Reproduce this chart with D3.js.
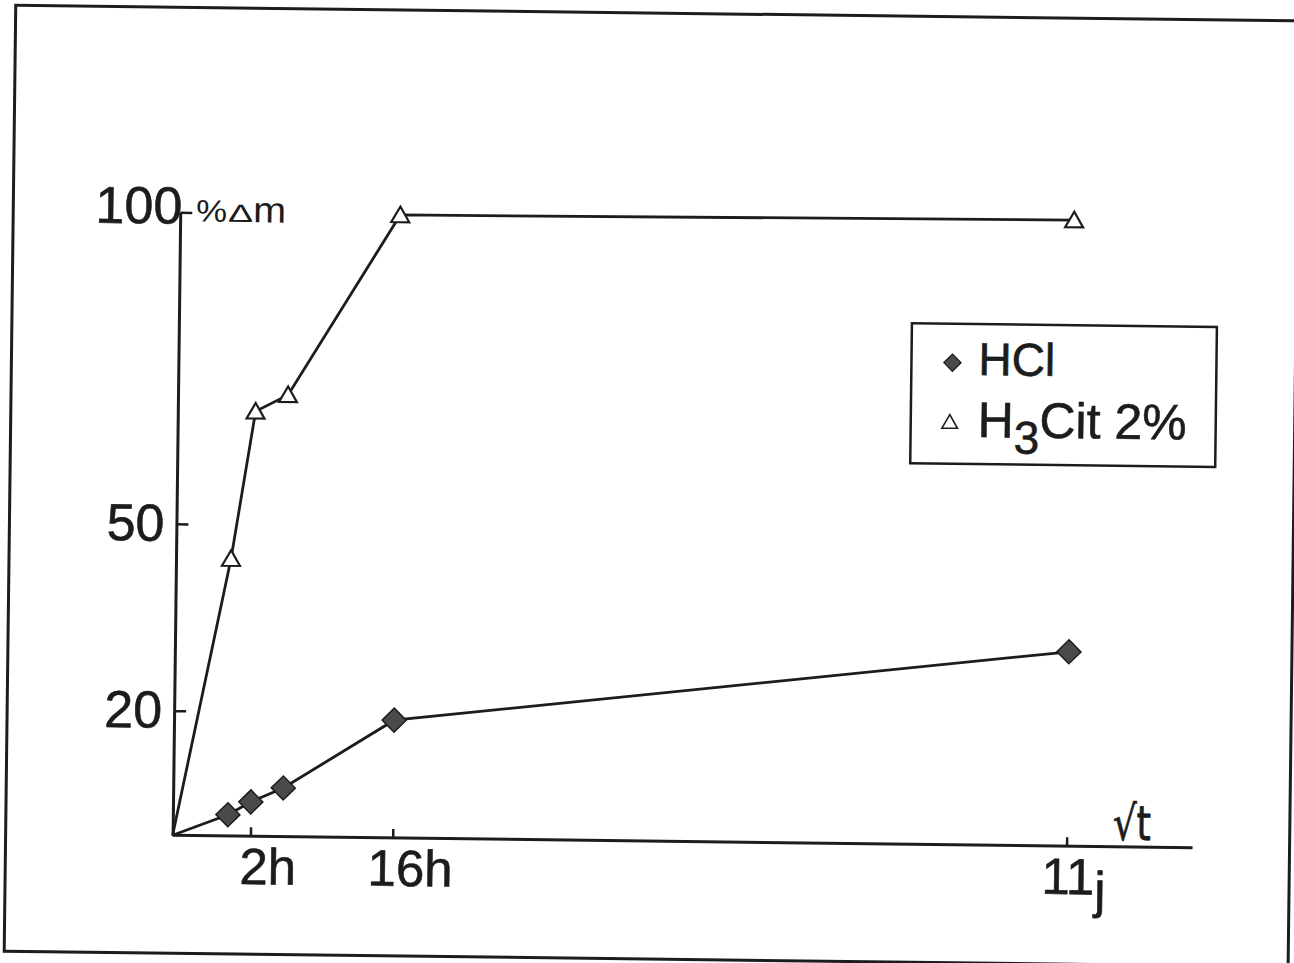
<!DOCTYPE html>
<html><head><meta charset="utf-8">
<script src="https://cdn.jsdelivr.net/npm/d3@7"></script>
<style>html,body{margin:0;padding:0;background:#fff;} svg{display:block;}</style>
</head><body>
<svg id="chart" width="1294" height="963"></svg>
<script>
// ---- data ----
const hours = [0, 1, 2, 4, 16, 264];           // time points (h), plotted on a sqrt(t) axis; 264 h = 11 j
const hclValues = [0, 3.4, 5.5, 7.8, 18.9, 31.2];
const citValues = [0, 44.5, 68.2, 70.9, 100, 100.5];
const seriesNames = ["HCl", "H3Cit 2%"];
const xTickHours = [2, 16, 264];
const xTickNumbers = ["2", "16", "11"];
const xTickUnits = ["h", "h", "j"];
const yTickValues = [20, 50, 100];
const yTitleParts = ["%", "Δ", "m"];
const xTitle = "√t";

// ---- setup ----
const W = 1294, H = 963;
const ink = "#1c1c1c";
const sans = "'Liberation Sans', Arial, sans-serif";
const svg = d3.select("#chart");
svg.append("rect").attr("width", W).attr("height", H).attr("fill", "#fff");
const g = svg.append("g").attr("transform", "rotate(0.7 647 480)");

// outer frame
g.append("rect").attr("x", 10).attr("y", 13).attr("width", 1284).attr("height", 946)
  .attr("fill", "none").attr("stroke", ink).attr("stroke-width", 3);

const x0 = 177, y0 = 841, xAxisEnd = 1197;
const x = d3.scaleSqrt().domain([0, 264]).range([x0, x0 + 894]);
const y = d3.scaleLinear().domain([0, 100]).range([y0, 218]);

// ---- y axis ----
const yAxisG = g.append("g").attr("transform", `translate(${x0},0)`)
  .call(d3.axisLeft(y).tickValues(yTickValues).tickSizeInner(-12).tickSizeOuter(0).tickPadding(12));
yAxisG.select(".domain").attr("stroke", ink).attr("stroke-width", 3);
yAxisG.selectAll(".tick line").attr("stroke", ink).attr("stroke-width", 2.5);
yAxisG.selectAll(".tick text").attr("fill", ink).style("font-family", sans).style("font-size", "52px")
  .attr("stroke", ink).attr("stroke-width", 0.6);
yAxisG.selectAll(".tick").filter(d => d === 100).select("text")
  .attr("x", 2).attr("dy", "0.21em");

// y title
const yTitle = g.append("g").attr("fill", ink).style("font-family", sans);
const yTitleSpec = [ {x: 193, size: 31, len: 31}, {x: 225, size: 25, len: 25}, {x: 250, size: 36, len: 33} ];
yTitle.selectAll("text").data(yTitleParts).join("text")
  .attr("x", (d, i) => yTitleSpec[i].x).attr("y", 227)
  .style("font-size", (d, i) => yTitleSpec[i].size + "px")
  .attr("textLength", (d, i) => yTitleSpec[i].len).attr("lengthAdjust", "spacingAndGlyphs")
  .text(d => d);

// ---- x axis ----
const labelSize = 51;
const xAxisG = g.append("g").attr("transform", `translate(0,${y0})`)
  .call(d3.axisBottom(x).tickValues(xTickHours).tickSizeInner(-9).tickSizeOuter(0).tickFormat(""));
xAxisG.select(".domain").remove();
xAxisG.insert("line", ":first-child").attr("x1", x0).attr("x2", xAxisEnd).attr("y1", 0).attr("y2", 0)
  .attr("stroke", ink).attr("stroke-width", 3);
xAxisG.selectAll(".tick line").attr("stroke", ink).attr("stroke-width", 2.5);
xAxisG.selectAll(".tick").each(function(d, i) {
  const t = d3.select(this);
  const half = xTickNumbers[i].length * 0.556 * labelSize / 2;   // digit advance in Liberation Sans
  const txt = t.append("text").attr("x", 3 - half).attr("y", 48).attr("text-anchor", "start")
    .attr("fill", ink).attr("stroke", ink).attr("stroke-width", 0.6)
    .style("font-family", sans).style("font-size", labelSize + "px");
  txt.append("tspan").text(xTickNumbers[i]);
  txt.append("tspan").attr("dy", xTickUnits[i] === "j" ? 13 : 0).text(xTickUnits[i]);
});

// x title
g.append("text").attr("x", 1117).attr("y", 834).attr("fill", ink).attr("stroke", ink).attr("stroke-width", 0.8)
  .style("font-family", "'DejaVu Sans', sans-serif").style("font-size", "48px")
  .attr("textLength", 38).attr("lengthAdjust", "spacingAndGlyphs").text(xTitle);

// ---- series ----
const hcl = hours.map((h, i) => ({h, v: hclValues[i]}));
const cit = hours.map((h, i) => ({h, v: citValues[i]}));
const line = d3.line().x(d => x(d.h)).y(d => y(d.v));

g.append("path").datum(cit).attr("d", line).attr("fill", "none").attr("stroke", ink).attr("stroke-width", 2.8);
g.append("path").datum(hcl).attr("d", line).attr("fill", "none").attr("stroke", ink).attr("stroke-width", 2.8);

const diamond = d3.symbol(d3.symbolSquare, 289);
const tri = d3.symbol(d3.symbolTriangle, 140);

g.append("g").selectAll("path").data(hcl.slice(1)).join("path")
  .attr("d", diamond)
  .attr("transform", d => `translate(${x(d.h)},${y(d.v)}) rotate(45)`)
  .attr("fill", "#4a4a4a").attr("stroke", ink).attr("stroke-width", 1.5);

g.append("g").selectAll("path").data(cit.slice(1)).join("path")
  .attr("d", tri)
  .attr("transform", d => `translate(${x(d.h)},${y(d.v) + 2})`)
  .attr("fill", "#fff").attr("stroke", ink).attr("stroke-width", 2.2);

// ---- legend ----
const lg = g.append("g");
lg.append("rect").attr("x", 910).attr("y", 320).attr("width", 305).attr("height", 140)
  .attr("fill", "#fff").attr("stroke", ink).attr("stroke-width", 2.5);
lg.append("path").attr("d", d3.symbol(d3.symbolSquare, 150))
  .attr("transform", "translate(951,359) rotate(45)")
  .attr("fill", "#4a4a4a").attr("stroke", ink).attr("stroke-width", 1.2);
lg.append("path").attr("d", d3.symbol(d3.symbolTriangle, 105))
  .attr("transform", "translate(949,420)")
  .attr("fill", "#fff").attr("stroke", ink).attr("stroke-width", 1.6);
lg.append("text").attr("x", 977).attr("y", 371).attr("fill", ink).attr("stroke", ink).attr("stroke-width", 0.6)
  .style("font-family", sans).style("font-size", "46px").text(seriesNames[0]);
const name2 = seriesNames[1];
const t2 = lg.append("text").attr("x", 977).attr("y", 433).attr("fill", ink).attr("stroke", ink).attr("stroke-width", 0.6)
  .style("font-family", sans).style("font-size", "50px");
t2.append("tspan").text(name2.slice(0, 1));
t2.append("tspan").attr("dy", 16).style("font-size", "46px").text(name2.slice(1, 2));
t2.append("tspan").attr("dy", -16).text(name2.slice(2));
</script>
</body></html>
